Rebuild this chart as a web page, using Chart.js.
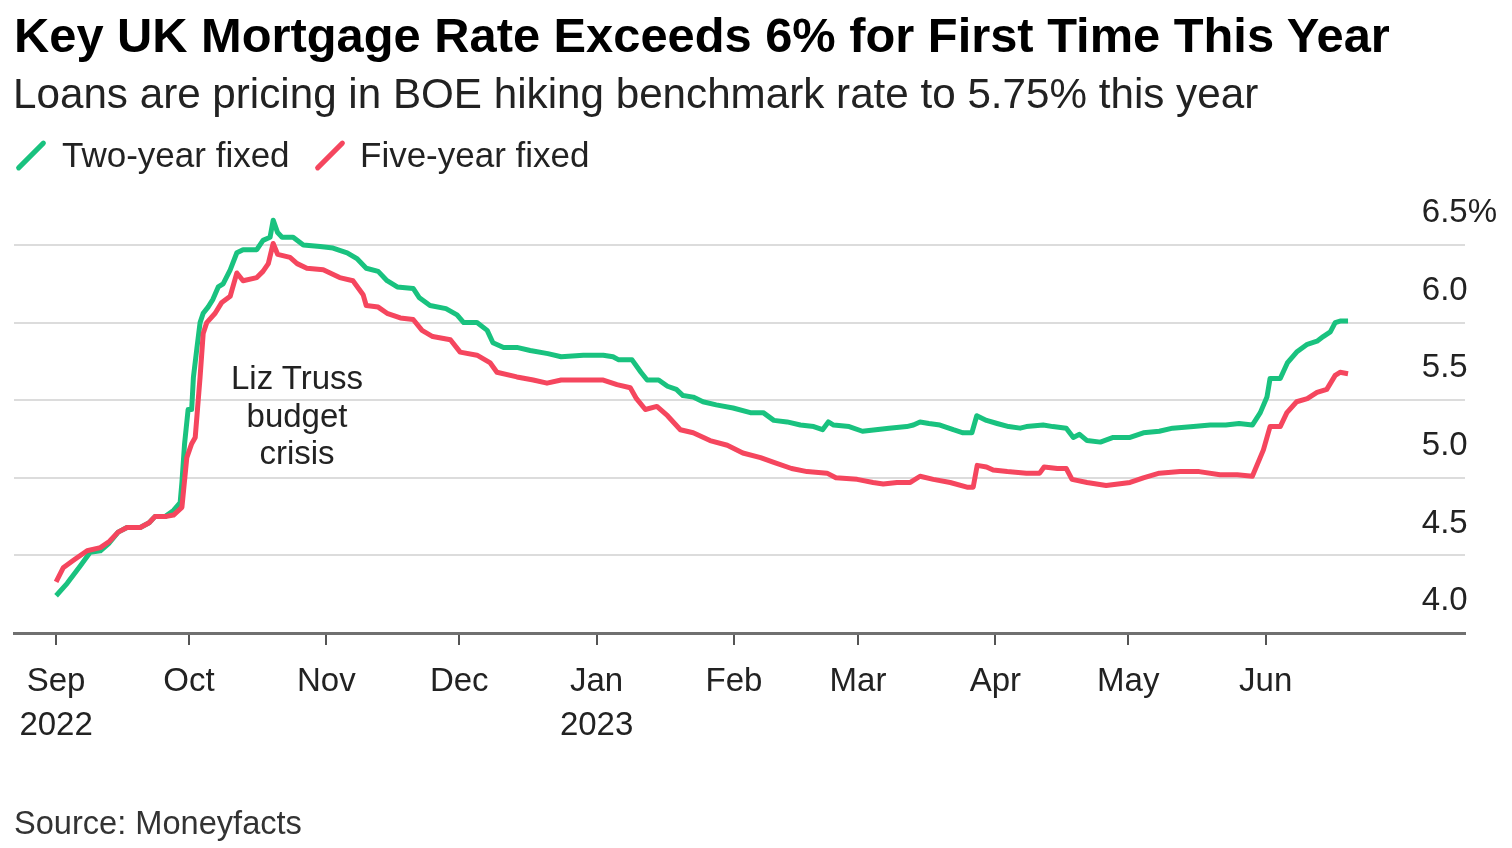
<!DOCTYPE html>
<html>
<head>
<meta charset="utf-8">
<script src="https://cdn.jsdelivr.net/npm/chart.js@4.4.1/dist/chart.umd.min.js"></script>
<style>
  html, body { margin: 0; padding: 0; background: #fff; }
  body { width: 1512px; height: 848px; position: relative; overflow: hidden; font-family: "Liberation Sans", Arial, sans-serif; }
  .txt { position: absolute; white-space: nowrap; z-index: 2; }
  #title { left: 14px; top: 7px; font-size: 48.8px; line-height: 56px; font-weight: bold; color: #000; }
  #subtitle { left: 13px; top: 69px; font-size: 42.2px; line-height: 50px; color: #222; }
  .legText { top: 135px; font-size: 35px; line-height: 40px; color: #222; }
  .slash { position: absolute; z-index: 2; width: 40px; height: 5px; border-radius: 3px; transform: rotate(-45deg); top: 153px; }
  #note { left: 197px; top: 359px; width: 200px; text-align: center; font-size: 33px; line-height: 37.5px; color: #222; }
  #source { left: 14px; top: 804px; font-size: 32.6px; line-height: 38px; color: #333; }
  #wrap { position: absolute; left: 0; top: 0; width: 1512px; height: 848px; }
</style>
</head>
<body>
<div id="title" class="txt">Key UK Mortgage Rate Exceeds 6% for First Time This Year</div>
<div id="subtitle" class="txt">Loans are pricing in BOE hiking benchmark rate to 5.75% this year</div>
<div class="slash" style="left: 11px; background: #19c27f;"></div>
<div class="txt legText" style="left: 62px;">Two-year fixed</div>
<div class="slash" style="left: 310px; background: #f5465e;"></div>
<div class="txt legText" style="left: 360px;">Five-year fixed</div>
<div id="note" class="txt">Liz Truss<br>budget<br>crisis</div>
<div id="source" class="txt">Source: Moneyfacts</div>
<div id="wrap"><canvas id="mortgageChart"></canvas></div>

<script>
// days counted from 1 Sep 2022
const monthTickDays = [0, 30, 61, 91, 122, 153, 181, 212, 242, 273];
const monthLabels = [['Sep', '2022'], 'Oct', 'Nov', 'Dec', ['Jan', '2023'], 'Feb', 'Mar', 'Apr', 'May', 'Jun'];
const yTicks = [4.0, 4.5, 5.0, 5.5, 6.0, 6.5];

const twoYearDays = [0, 2.5, 5.4, 7.7, 10, 12, 14, 16, 19, 21, 22.3, 24.6, 26.5, 28, 28.4, 29, 29.8, 30.6, 31, 31.8,
  32.5, 33.2, 34.3, 35.4, 36.6, 37.7, 39.3, 40.8, 42.2, 45.3, 46.7, 48.3, 49, 50, 51, 53.5, 55.8, 59.6, 62.5, 65.7,
  68, 70, 72.7, 74.7, 77, 80.6, 82, 84.4, 88, 90.5, 92, 95, 97.3, 98.6, 101, 104, 107, 111, 114, 119,
  123.5, 125.7, 127, 130, 132, 133.4, 136, 138, 140, 141.5, 143.8, 146, 149, 152.8, 156.7, 159.6, 162, 165, 168, 171,
  173, 174.3, 175.5, 179, 182, 185, 188, 192, 193.5, 195, 197, 199.5, 202.5, 204.7, 206.7, 207.8, 210, 212.4, 215, 217.6,
  219, 222.8, 225, 228, 229.6, 231, 232.7, 235.7, 238.6, 242.4, 245.4, 249, 252, 256.7, 260.5, 264, 267, 270, 271.8, 273.3,
  274, 276.3, 277.9, 280, 282.4, 284.6, 286, 287.6, 288.7, 289.8, 291.6];
const twoYearRates = [4.24, 4.32, 4.43, 4.52, 4.53, 4.58, 4.65, 4.68, 4.68, 4.71, 4.75, 4.75, 4.79, 4.84, 4.97, 5.22, 5.44, 5.44, 5.65, 5.84,
  6.0, 6.06, 6.1, 6.15, 6.23, 6.25, 6.34, 6.45, 6.47, 6.47, 6.53, 6.55, 6.66, 6.58, 6.55, 6.55, 6.5, 6.49, 6.48, 6.45,
  6.41, 6.35, 6.33, 6.27, 6.23, 6.22, 6.16, 6.11, 6.09, 6.05, 6.0, 6.0, 5.95, 5.87, 5.84, 5.84, 5.82, 5.8, 5.78, 5.79,
  5.79, 5.78, 5.76, 5.76, 5.68, 5.63, 5.63, 5.59, 5.57, 5.53, 5.52, 5.49, 5.47, 5.45, 5.42, 5.42, 5.37, 5.36, 5.34, 5.33,
  5.31, 5.36, 5.34, 5.33, 5.3, 5.31, 5.32, 5.33, 5.34, 5.36, 5.35, 5.34, 5.31, 5.29, 5.29, 5.4, 5.37, 5.35, 5.33, 5.32,
  5.33, 5.34, 5.33, 5.32, 5.26, 5.28, 5.24, 5.23, 5.26, 5.26, 5.29, 5.3, 5.32, 5.33, 5.34, 5.34, 5.35, 5.34, 5.42, 5.52,
  5.64, 5.64, 5.74, 5.81, 5.86, 5.88, 5.91, 5.94, 6.0, 6.01, 6.01];

const fiveYearDays = [0, 1.6, 4, 7, 10, 12, 14, 16, 19, 21, 22.3, 24.6, 26.5, 28.4, 29.5, 30.6, 31.4, 32.5, 33.2, 34,
  35.9, 37.4, 39.3, 40.8, 42.2, 45.3, 46.7, 47.9, 49, 50, 52.8, 54.4, 56.6, 60.3, 64, 67, 69.3, 70, 72.7, 74.7,
  77.7, 80.6, 82.6, 85, 89, 91.2, 95, 98, 99.5, 104, 107.7, 110.8, 114, 119, 123.5, 126.6, 129.6, 131, 133, 135.6,
  138, 140.9, 143.8, 147.6, 151.5, 155, 159, 162, 166, 169.5, 174, 176, 180.8, 184.4, 186.7, 189.8, 192.8, 195, 198, 201.8,
  205.6, 207, 207.9, 210, 211.5, 214.7, 219, 222, 223, 226, 228, 229.3, 232.7, 237, 242.4, 245.4, 249, 253.7, 258, 262.7,
  266.6, 270, 272.5, 274, 276.3, 277.8, 280, 282.4, 284.6, 286.8, 288.7, 289.8, 291.6];
const fiveYearRates = [4.33, 4.42, 4.47, 4.53, 4.55, 4.59, 4.65, 4.68, 4.68, 4.71, 4.75, 4.75, 4.76, 4.81, 5.13, 5.22, 5.26, 5.65, 5.93, 6.0,
  6.06, 6.13, 6.17, 6.32, 6.27, 6.29, 6.33, 6.38, 6.51, 6.44, 6.42, 6.38, 6.35, 6.34, 6.29, 6.27, 6.18, 6.11, 6.1, 6.06,
  6.03, 6.02, 5.95, 5.91, 5.89, 5.81, 5.79, 5.74, 5.68, 5.65, 5.63, 5.61, 5.63, 5.63, 5.63, 5.6, 5.58, 5.51, 5.44, 5.46,
  5.4, 5.31, 5.29, 5.24, 5.21, 5.16, 5.13, 5.1, 5.06, 5.04, 5.03, 5.0, 4.99, 4.97, 4.96, 4.97, 4.97, 5.01, 4.99, 4.97,
  4.94, 4.94, 5.08, 5.07, 5.05, 5.04, 5.03, 5.03, 5.07, 5.06, 5.06, 4.99, 4.97, 4.95, 4.97, 5.0, 5.03, 5.04, 5.04, 5.02,
  5.02, 5.01, 5.18, 5.33, 5.33, 5.42, 5.49, 5.51, 5.55, 5.57, 5.66, 5.68, 5.67];

function toPoints(days, rates) {
  return days.map((d, i) => ({ x: d, y: rates[i] }));
}

function drawChart() {
  Chart.defaults.font.family = '"Liberation Sans", Arial, sans-serif';
  Chart.defaults.color = '#222';

  const ctx = document.getElementById('mortgageChart').getContext('2d');
  new Chart(ctx, {
    type: 'line',
    data: {
      datasets: [{
        label: 'Five-year fixed',
        data: toPoints(fiveYearDays, fiveYearRates),
        borderColor: '#f5465e',
        borderWidth: 5,
        pointRadius: 0,
        tension: 0,
        borderJoinStyle: 'round',
        clip: false
      }, {
        label: 'Two-year fixed',
        data: toPoints(twoYearDays, twoYearRates),
        borderColor: '#19c27f',
        borderWidth: 5,
        pointRadius: 0,
        tension: 0,
        borderJoinStyle: 'round',
        clip: false
      }]
    },
    options: {
      responsive: true,
      maintainAspectRatio: false,
      animation: false,
      layout: { padding: { left: 14, right: 15, top: 245, bottom: 85 } },
      plugins: {
        legend: { display: false },
        tooltip: { enabled: false }
      },
      scales: {
        x: {
          type: 'linear',
          min: -9.5,
          max: 318,
          afterBuildTicks: scale => {
            scale.ticks = monthTickDays.map(v => ({ value: v }));
          },
          border: { display: true, color: '#707070', width: 3 },
          grid: { drawOnChartArea: false, drawTicks: true, tickLength: 12, color: '#555', lineWidth: 2 },
          ticks: {
            autoSkip: false,
            maxRotation: 0,
            padding: 15,
            color: '#222',
            font: { size: 33, lineHeight: 1.333 },
            callback: (value, index) => monthLabels[index]
          }
        },
        y: {
          position: 'right',
          min: 4,
          max: 6.5,
          afterBuildTicks: scale => {
            scale.ticks = yTicks.map(v => ({ value: v }));
          },
          afterFit: scale => { scale.width = 32; },
          border: { display: false },
          grid: { color: '#dcdcdc', lineWidth: 2, drawTicks: false },
          ticks: {
            mirror: true,
            crossAlign: 'far',
            padding: 32,
            labelOffset: -32,
            color: '#222',
            font: { size: 33 },
            callback: value => value === 6.5 ? '6.5%' : value.toFixed(1)
          }
        }
      }
    }
  });
}

drawChart();
</script>
</body>
</html>
